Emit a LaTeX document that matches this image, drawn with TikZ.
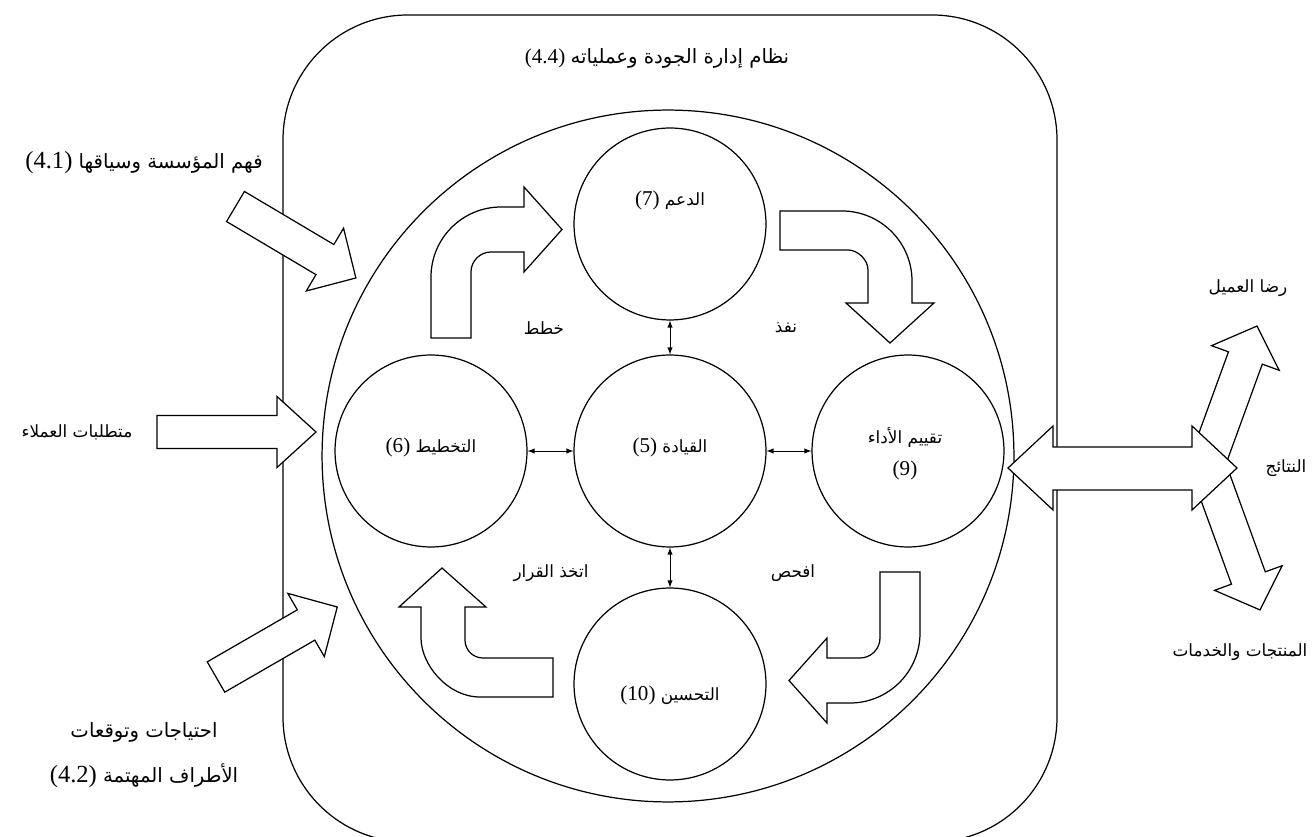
\documentclass[tikz,border=0pt]{standalone}
\usepackage{fontspec}
\setmainfont{Liberation Serif}
\newfontfamily\arabicfont[Script=Arabic, Scale=0.8]{DejaVu Sans}
\TeXXeTstate=1
\newcommand\ar[1]{{\arabicfont\beginR #1\endR}}
\newcommand\blockarrow[7]{%
  \begin{scope}[shift={(#1,#2)}, rotate=#3]
  \draw[blk] (0,-#5) -- ({#4-#7},-#5) -- ({#4-#7},-#6) -- (#4,0) -- ({#4-#7},#6) -- ({#4-#7},#5) -- (0,#5) -- cycle;
  \end{scope}}
\tikzset{
  stage/.style={draw, circle, line width=0.7pt, minimum size=3.84cm, inner sep=0pt},
  blk/.style={draw, fill=white, line width=0.7pt},
  lbl/.style={inner sep=0pt, font=\fontsize{12}{14}\selectfont},
  big/.style={font=\fontsize{14}{16}\selectfont},
  link/.style={latex-latex, line width=0.4pt},
}

\begin{document}
\begin{tikzpicture}[x=0.02cm, y=-0.02cm]
\useasboundingbox (0,0) rectangle (1312,837);
\clip (0,0) rectangle (1312,837);

\draw[line width=0.7pt, rounded corners=2.5cm] (283,15) rectangle (1057,842);
\node[draw, circle, line width=0.7pt, minimum size=13.84cm] (sys) at (668,456) {};

\node[stage] (c7) at (670,224) {};
\node[stage] (c6) at (431,451) {};
\node[stage] (c5) at (670,451) {};
\node[stage] (c9) at (908,451) {};
\node[stage] (c10) at (670,684) {};

\draw[link] (c7) -- (c5);
\draw[link] (c6) -- (c5);
\draw[link] (c5) -- (c9);
\draw[link] (c5) -- (c10);

\draw[blk] (431,338) -- (431,277) .. controls (431,238.4) and (462.4,207) .. (501,207) -- (524,207) -- (524,187) -- (562,229.5) -- (524,272) -- (524,252) -- (491,252) .. controls (480,252) and (471,261) .. (471,272) -- (471,338) -- cycle;
\draw[blk] (780,211) -- (842,211) .. controls (880.6,211) and (912,242.4) .. (912,281) -- (912,303) -- (934,303) -- (890,343) -- (846,303) -- (868,303) -- (868,270) .. controls (868,259) and (857,250) .. (848,250) -- (780,250) -- cycle;
\draw[blk] (920,572) -- (920,633) .. controls (920,671.6) and (888.6,703) .. (850,703) -- (827,703) -- (827,723) -- (789,680.5) -- (827,638) -- (827,658) -- (860,658) .. controls (871,658) and (880,649) .. (880,638) -- (880,572) -- cycle;
\draw[blk] (442,568) -- (486,607) -- (465,607) -- (465,640) .. controls (465,650) and (473,658) .. (483,658) -- (553,658) -- (553,697) -- (480,697) .. controls (447.4,697) and (421,664.4) .. (421,638) -- (421,607) -- (399,607) -- cycle;

\blockarrow{235.5}{206.5}{-30.7}{140}{17.5}{36.5}{36}
\blockarrow{157}{432}{0}{159}{16.5}{35.5}{39}
\blockarrow{216}{677}{30}{140}{17.5}{36.5}{36}
\blockarrow{1205.7}{467}{70}{150}{18}{36}{34}
\blockarrow{1208.7}{469}{-70}{150}{18}{36}{34}
\draw[blk] (1008,468) -- (1053,426) -- (1053,447) -- (1192,447) -- (1192,426) -- (1237,468) -- (1192,510) -- (1192,490) -- (1053,490) -- (1053,510) -- cycle;

\node[lbl] (t7) at (670,200) {(7) \ar{الدعم}};
\node[lbl] (t6) at (431,447) {(6) \ar{التخطيط}};
\node[lbl] (t5) at (670,447) {(5) \ar{القيادة}};
\node[lbl] (t9) at (905,437) {\ar{تقييم الأداء}};
\node[lbl] (n9) at (905,470) {(9)};
\node[lbl] (t10) at (670,695) {(10) \ar{التحسين}};

\node[lbl] (plan) at (544,328) {\ar{خطط}};
\node[lbl] (do) at (786,328) {\ar{نفذ}};
\node[lbl] (act) at (551,573) {\ar{اتخذ القرار}};
\node[lbl] (check) at (793,573) {\ar{افحص}};

\node[lbl] (title) at (657,58) {\fontsize{12}{14}\selectfont(4.4) \fontsize{14}{16}\selectfont\ar{نظام إدارة الجودة وعملياته}};
\node[lbl, big] (ctx) at (144,163) {(4.1) \ar{فهم المؤسسة وسياقها}};
\node[lbl] (req) at (77,432) {\ar{متطلبات العملاء}};
\node[lbl, big] (needs1) at (144,732) {\ar{احتياجات وتوقعات}};
\node[lbl, big] (needs2) at (144,776) {(4.2) \ar{الأطراف المهتمة}};
\node[lbl] (sat) at (1248,288) {\ar{رضا العميل}};
\node[lbl] (res) at (1286,468) {\ar{النتائج}};
\node[lbl] (prod) at (1240,652) {\ar{المنتجات والخدمات}};
\end{tikzpicture}
\end{document}
